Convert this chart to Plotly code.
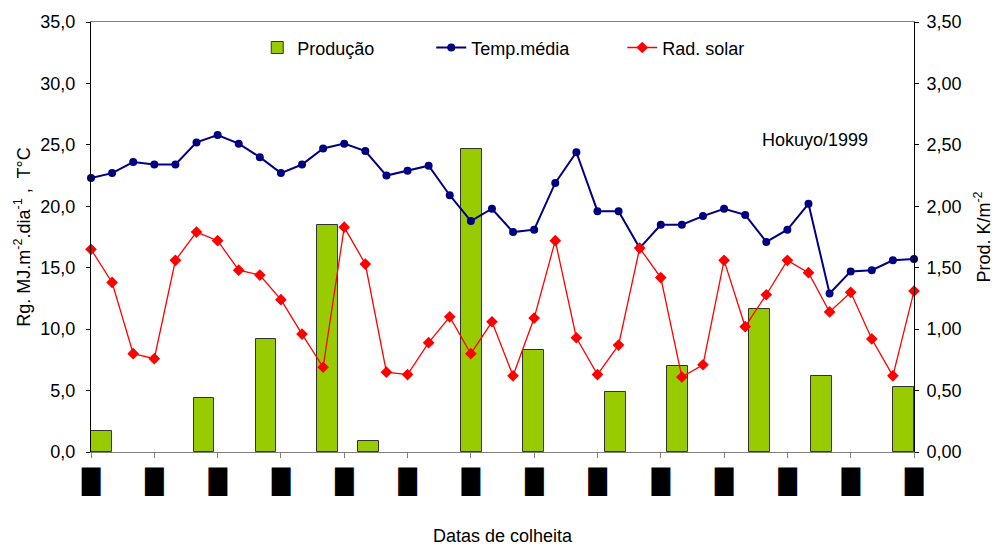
import plotly.graph_objects as go

# ---- data ----
n_points = 40
temp_media = [22.3, 22.7, 23.6, 23.4, 23.4, 25.2, 25.8, 25.1, 24.0, 22.7,
              23.4, 24.7, 25.1, 24.5, 22.5, 22.9, 23.3, 20.9, 18.8, 19.8,
              17.9, 18.1, 21.9, 24.4, 19.6, 19.6, 16.6, 18.5, 18.5, 19.2,
              19.8, 19.3, 17.1, 18.1, 20.2, 12.9, 14.7, 14.8, 15.6, 15.7]
rad_solar = [16.5, 13.8, 8.0, 7.6, 15.6, 17.9, 17.2, 14.8, 14.4, 12.4,
             9.6, 6.9, 18.3, 15.3, 6.5, 6.3, 8.9, 11.0, 8.0, 10.6,
             6.2, 10.9, 17.2, 9.3, 6.3, 8.7, 16.6, 14.2, 6.1, 7.1,
             15.6, 10.2, 12.8, 15.6, 14.6, 11.4, 13.0, 9.2, 6.2, 13.1]
producao = [0.17, None, None, None, None, 0.44, None, None, 0.92, None,
            None, 1.85, None, 0.09, None, None, None, None, 2.47, None,
            None, 0.83, None, None, None, 0.49, None, None, 0.70, None,
            None, None, 1.16, None, None, 0.62, None, None, None, 0.53]
tick_idx = list(range(0, 40, 3))
tick_labels = ["█"] * len(tick_idx)

idx = list(range(n_points))

font_main = "Liberation Sans, Arial, sans-serif"

fig = go.Figure()
# bars on the base subplot (drawn underneath)
fig.add_trace(go.Bar(
    x=idx, y=producao, name="Produção", xaxis="x", yaxis="y",
    marker=dict(color="#99CC00", line=dict(color="#333333", width=1)),
    legendwidth=129,
))
# lines on the overlay subplot (drawn on top)
fig.add_trace(go.Scatter(
    x=idx, y=temp_media, name="Temp.média", mode="lines+markers",
    xaxis="x2", yaxis="y2", cliponaxis=False,
    line=dict(color="#000080", width=2),
    marker=dict(symbol="circle", size=8, color="#000080"),
    legendwidth=146,
))
fig.add_trace(go.Scatter(
    x=idx, y=rad_solar, name="Rad. solar", mode="lines+markers",
    xaxis="x2", yaxis="y2", cliponaxis=False,
    line=dict(color="#FF0000", width=1.3),
    marker=dict(symbol="diamond", size=9, color="#FF0000"),
    legendwidth=100,
))

fig.update_layout(
    width=992, height=540,
    margin=dict(l=83, r=86, t=14, b=96),
    paper_bgcolor="white", plot_bgcolor="white",
    separators=",.",
    font=dict(family=font_main, size=18, color="black"),
    bargap=0.0,
    showlegend=True,
    legend=dict(orientation="h", x=0.202, y=0.94, xanchor="left", yanchor="middle",
                bgcolor="rgba(0,0,0,0)", font=dict(size=18)),
    xaxis=dict(range=[-0.5, n_points - 0.5], visible=False, automargin=False),
    xaxis2=dict(range=[0, n_points - 1], overlaying="x", side="bottom",
                tickmode="array", tickvals=tick_idx,
                ticktext=tick_labels, ticks="outside", ticklen=5, tickcolor="#808080",
                showline=True, linecolor="#808080", linewidth=1, mirror=True,
                showgrid=False, zeroline=False, automargin=False, ticklabelstandoff=3,
                tickfont=dict(family="DejaVu Sans", size=24, color="black"),
                title=dict(text="Datas de colheita", font=dict(size=18), standoff=34)),
    yaxis=dict(range=[0, 3.5], dtick=0.5, tickformat=".2f", side="right",
               ticks="outside", ticklen=4, tickcolor="black", showline=True,
               linecolor="black", linewidth=1, showgrid=False, zeroline=False,
               automargin=False, ticklabelstandoff=4,
               title=dict(text="Prod. K/m<sup>-2</sup>", font=dict(size=18), standoff=16)),
    yaxis2=dict(range=[0, 35], dtick=5, tickformat=".1f", overlaying="y", side="left",
                ticks="outside", ticklen=4, ticklabelstandoff=7,
                tickcolor="black", showline=True, linecolor="black", linewidth=1,
                showgrid=False, zeroline=False, automargin=False,
                title=dict(text="Rg. MJ.m<sup>-2</sup>.dia<sup>-1</sup> ,  T°C",
                           font=dict(size=18), standoff=5)),
    annotations=[dict(text="Hokuyo/1999", x=0.813, y=0.7256, xref="paper", yref="paper",
                      xanchor="left", yanchor="middle", showarrow=False,
                      font=dict(size=18))],
)

fig.write_html("out.html")
